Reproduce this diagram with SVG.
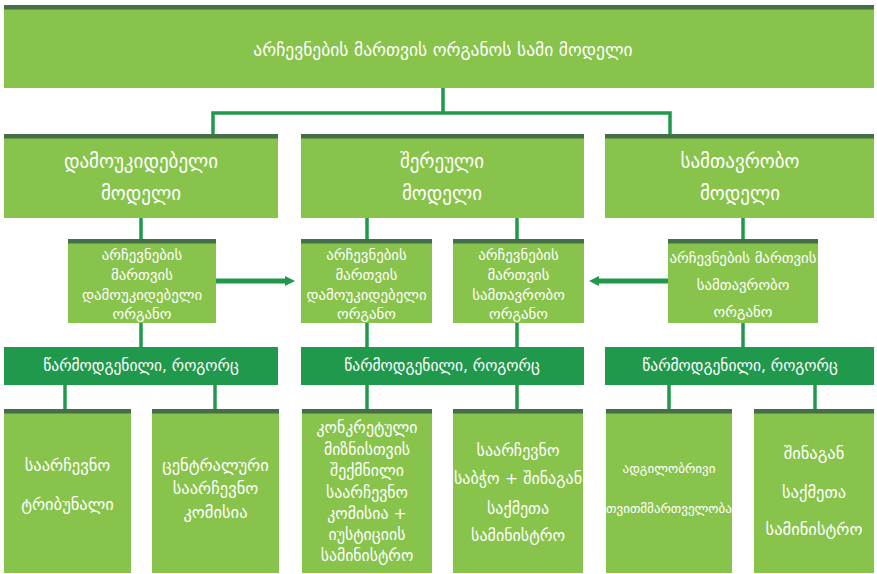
<svg xmlns="http://www.w3.org/2000/svg" width="877" height="574" viewBox="0 0 877 574">
<style>
.box{fill:#88c34c}
.strip{fill:#456f48}
.bar{fill:#21994c}
.ln{stroke:#21994c;stroke-width:3.5;fill:none}
.arr{stroke:#21994c;stroke-width:5;fill:none}
text{font-family:"DejaVu Sans",sans-serif;fill:#ffffff;text-anchor:middle;dominant-baseline:central}
.t1{font-size:17.5px}
.t2{font-size:19px}
.t3{font-size:14.8px}
.t4{font-size:15.5px}
.t5{font-size:15.8px}
.t6{font-size:13px}
.t7{font-size:16.5px}
.t8{font-size:16px}
</style>
<defs>
<marker id="ah" markerWidth="10" markerHeight="10" refX="0" refY="5" orient="auto" markerUnits="userSpaceOnUse">
<path d="M0,0 L10,5 L0,10 Z" fill="#21994c"/>
</marker>
</defs>
<rect width="877" height="574" fill="#ffffff"/>
<g id="connectors">
<path class="ln" d="M443,88 V113 M213,113 H670 M213,111.25 V134 M670,111.25 V134"/>
<path class="ln" d="M141,218 V239 M141,323 V347"/>
<path class="ln" d="M367,218 V239 M367,323 V347"/>
<path class="ln" d="M517,218 V239 M517,323 V347"/>
<path class="ln" d="M743,218 V239 M743,323 V347"/>
<path class="ln" d="M65,385 V409 M215,385 V409 M367,385 V409 M517,385 V409 M669,385 V409 M815,385 V409"/>
<path class="arr" d="M216,281 H285" marker-end="url(#ah)"/>
<path class="arr" d="M668,281 H599" marker-end="url(#ah)"/>
</g>
<g id="title">
<rect class="box" x="4" y="5" width="870" height="83"/>
<rect class="strip" x="4" y="5" width="870" height="4.5"/>
<text class="t1" x="443" y="50">არჩევნების მართვის ორგანოს სამი მოდელი</text>
</g>
<g id="model-independent">
<rect class="box" x="4" y="134" width="274" height="84"/>
<rect class="strip" x="4" y="134" width="274" height="4.5"/>
<text class="t2" x="141" y="161">დამოუკიდებელი</text>
<text class="t2" x="141" y="193">მოდელი</text>
</g>
<g id="model-mixed">
<rect class="box" x="301" y="134" width="283" height="84"/>
<rect class="strip" x="301" y="134" width="283" height="4.5"/>
<text class="t2" x="442" y="161">შერეული</text>
<text class="t2" x="442" y="193">მოდელი</text>
</g>
<g id="model-government">
<rect class="box" x="605" y="134" width="269" height="84"/>
<rect class="strip" x="605" y="134" width="269" height="4.5"/>
<text class="t2" x="740" y="161">სამთავრობო</text>
<text class="t2" x="740" y="193">მოდელი</text>
</g>
<g id="body-independent">
<rect class="box" x="68" y="239" width="148" height="84"/>
<rect class="strip" x="68" y="239" width="148" height="4.5"/>
<text class="t3" x="142" y="254">არჩევნების</text>
<text class="t3" x="142" y="274">მართვის</text>
<text class="t3" x="142" y="294">დამოუკიდებელი</text>
<text class="t3" x="142" y="313">ორგანო</text>
</g>
<g id="body-mixed-independent">
<rect class="box" x="301" y="239" width="131" height="84"/>
<rect class="strip" x="301" y="239" width="131" height="4.5"/>
<text class="t3" x="366.5" y="254">არჩევნების</text>
<text class="t3" x="366.5" y="274">მართვის</text>
<text class="t3" x="366.5" y="294">დამოუკიდებელი</text>
<text class="t3" x="366.5" y="313">ორგანო</text>
</g>
<g id="body-mixed-government">
<rect class="box" x="453" y="239" width="131" height="84"/>
<rect class="strip" x="453" y="239" width="131" height="4.5"/>
<text class="t3" x="518.5" y="254">არჩევნების</text>
<text class="t3" x="518.5" y="274">მართვის</text>
<text class="t3" x="518.5" y="294">სამთავრობო</text>
<text class="t3" x="518.5" y="313">ორგანო</text>
</g>
<g id="body-government">
<rect class="box" x="668" y="239" width="150" height="84"/>
<rect class="strip" x="668" y="239" width="150" height="4.5"/>
<text class="t3" x="743" y="257">არჩევნების მართვის</text>
<text class="t3" x="743" y="284">სამთავრობო</text>
<text class="t3" x="743" y="311">ორგანო</text>
</g>
<g id="rep-independent">
<rect class="bar" x="4" y="347" width="274" height="38"/>
<text class="t4" x="141" y="366">წარმოდგენილი, როგორც</text>
</g>
<g id="rep-mixed">
<rect class="bar" x="301" y="347" width="283" height="38"/>
<text class="t4" x="442" y="366">წარმოდგენილი, როგორც</text>
</g>
<g id="rep-government">
<rect class="bar" x="605" y="347" width="269" height="38"/>
<text class="t4" x="740" y="366">წარმოდგენილი, როგორც</text>
</g>
<g id="electoral-tribunal">
<rect class="box" x="4" y="409" width="127" height="164"/>
<rect class="strip" x="4" y="409" width="127" height="4.5"/>
<text class="t7" x="67.5" y="465">საარჩევნო</text>
<text class="t7" x="67.5" y="504">ტრიბუნალი</text>
</g>
<g id="central-commission">
<rect class="box" x="152" y="409" width="127" height="164"/>
<rect class="strip" x="152" y="409" width="127" height="4.5"/>
<text class="t7" x="215.5" y="465">ცენტრალური</text>
<text class="t7" x="215.5" y="488">საარჩევნო</text>
<text class="t7" x="215.5" y="512">კომისია</text>
</g>
<g id="special-commission">
<rect class="box" x="302" y="409" width="130" height="164"/>
<rect class="strip" x="302" y="409" width="130" height="4.5"/>
<text class="t5" x="367" y="427">კონკრეტული</text>
<text class="t5" x="367" y="449">მიზნისთვის</text>
<text class="t5" x="367" y="470">შექმნილი</text>
<text class="t5" x="367" y="492">საარჩევნო</text>
<text class="t5" x="367" y="513">კომისია +</text>
<text class="t5" x="367" y="534">იუსტიციის</text>
<text class="t5" x="367" y="555">სამინისტრო</text>
</g>
<g id="council-interior">
<rect class="box" x="453" y="409" width="130" height="164"/>
<rect class="strip" x="453" y="409" width="130" height="4.5"/>
<text class="t8" x="518" y="450">საარჩევნო</text>
<text class="t8" x="518" y="478">საბჭო + შინაგან</text>
<text class="t8" x="518" y="508">საქმეთა</text>
<text class="t8" x="518" y="535">სამინისტრო</text>
</g>
<g id="local-self-government">
<rect class="box" x="606" y="409" width="126" height="164"/>
<rect class="strip" x="606" y="409" width="126" height="4.5"/>
<text class="t6" x="669" y="468">ადგილობრივი</text>
<text class="t6" x="669" y="508">თვითმმართველობა</text>
</g>
<g id="interior-ministry">
<rect class="box" x="754" y="409" width="120" height="164"/>
<rect class="strip" x="754" y="409" width="120" height="4.5"/>
<text class="t7" x="814" y="453">შინაგან</text>
<text class="t7" x="814" y="492">საქმეთა</text>
<text class="t7" x="814" y="529">სამინისტრო</text>
</g>
</svg>
